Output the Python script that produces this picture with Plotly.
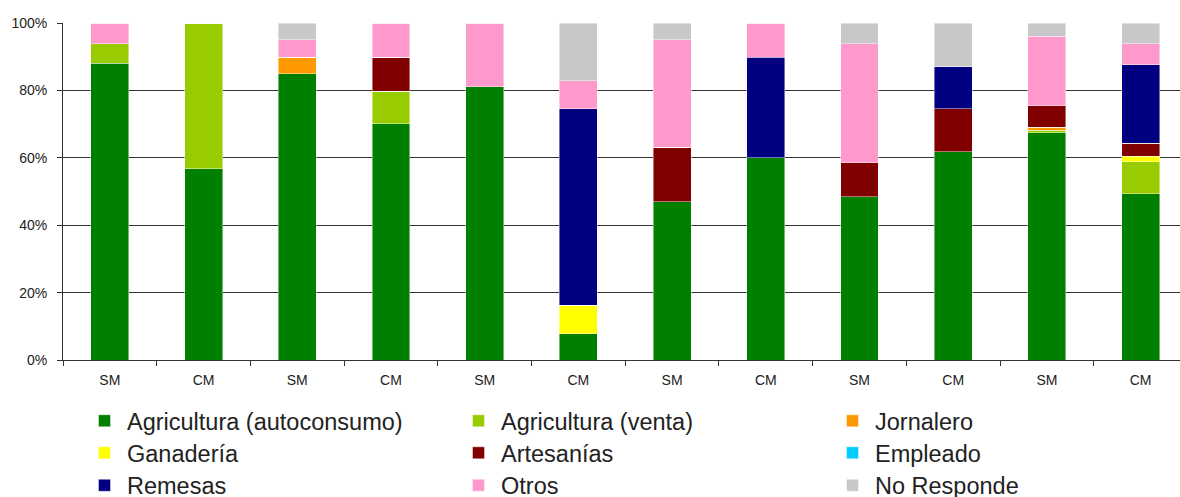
import plotly.graph_objects as go

# Groups along the x axis (SM / CM alternating)
groups = ["SM", "CM", "SM", "CM", "SM", "CM", "SM", "CM", "SM", "CM", "SM", "CM"]

# Share of households by main income source (%), stacked bottom to top
agri_autoconsumo = [88.1, 56.8, 85.0, 70.1, 81.1, 7.8, 46.9, 60.0, 48.5, 61.8, 67.4, 49.3]
agri_venta       = [5.8, 43.2, 0, 9.7, 0, 0, 0, 0, 0, 0, 0.8, 9.5]
jornalero        = [0, 0, 4.8, 0, 0, 0, 0, 0, 0, 0, 0.9, 0]
ganaderia        = [0, 0, 0, 0, 0, 8.4, 0, 0, 0, 0, 0, 1.6]
artesanias       = [0, 0, 0, 10.1, 0, 0, 16.2, 0, 10.1, 12.8, 6.3, 3.9]
empleado         = [0, 0, 0, 0, 0, 0, 0, 0, 0, 0, 0, 0]
remesas          = [0, 0, 0, 0, 0, 58.4, 0, 29.9, 0, 12.6, 0, 23.3]
otros            = [6.1, 0, 5.3, 10.1, 18.9, 8.3, 32.0, 10.1, 35.3, 0, 20.6, 6.3]
no_responde      = [0, 0, 4.9, 0, 0, 17.1, 4.9, 0, 6.1, 12.8, 4.0, 6.1]

y_ticks = [0, 20, 40, 60, 80, 100]

series = [
    ("Agricultura (autoconsumo)", agri_autoconsumo, "#008000"),
    ("Agricultura (venta)", agri_venta, "#99CC00"),
    ("Jornalero", jornalero, "#FF9900"),
    ("Ganadería", ganaderia, "#FFFF00"),
    ("Artesanías", artesanias, "#800000"),
    ("Empleado", empleado, "#00CCFF"),
    ("Remesas", remesas, "#000080"),
    ("Otros", otros, "#FF99CC"),
    ("No Responde", no_responde, "#C8C8CA"),
]

W, H = 1180, 497
FONT = "Liberation Sans, Arial, sans-serif"

# legend entries laid out in a 3x3 grid, one small legend per entry
col_x = [82, 456, 830]
row_y = [421, 453, 485.5]

fig = go.Figure()
layout_legends = {}
x_pos = list(range(len(groups)))
for i, (name, vals, color) in enumerate(series):
    key = "legend" if i == 0 else f"legend{i + 1}"
    fig.add_trace(go.Bar(
        x=x_pos, y=vals, name=name,
        marker=dict(color=color, line=dict(color="rgba(255,255,255,0.55)", width=0.8)),
        legend=key,
    ))
    r, c = divmod(i, 3)
    layout_legends[key] = dict(
        xref="container", yref="container",
        x=col_x[c] / W, y=1 - row_y[r] / H,
        xanchor="left", yanchor="middle",
        bgcolor="rgba(0,0,0,0)",
        itemwidth=35,
        font=dict(family=FONT, size=23.5, color="#222222"),
    )

fig.update_layout(
    width=W, height=H,
    margin=dict(l=63, r=0, t=23, b=137, autoexpand=False),
    barmode="stack", bargap=0.595,
    plot_bgcolor="white", paper_bgcolor="white",
    font=dict(family=FONT, size=14, color="#222222"),
    showlegend=True,
    **layout_legends,
)

fig.update_xaxes(
    range=[-0.5, 11.42],
    tickvals=x_pos, ticktext=groups,
    ticks="", showgrid=False, tickangle=0,
    ticklabelstandoff=7,
    showline=True, linecolor="#333333", linewidth=1,
    tickfont=dict(family=FONT, size=14, color="#222222"),
    minor=dict(tick0=0.5, dtick=1, ticks="outside", ticklen=5, tickcolor="#333333", showgrid=False),
    zeroline=False, fixedrange=True,
)
fig.update_yaxes(
    range=[0, 100],
    tickvals=y_ticks, ticktext=[f"{v}%" for v in y_ticks],
    ticks="outside", ticklen=5, tickcolor="#333333",
    ticklabelstandoff=7,
    showgrid=True, gridcolor="#333333", gridwidth=1,
    showline=True, linecolor="#333333", linewidth=1,
    zeroline=False,
    tickfont=dict(family=FONT, size=14, color="#222222"),
    fixedrange=True,
)

fig.write_html("out.html")
